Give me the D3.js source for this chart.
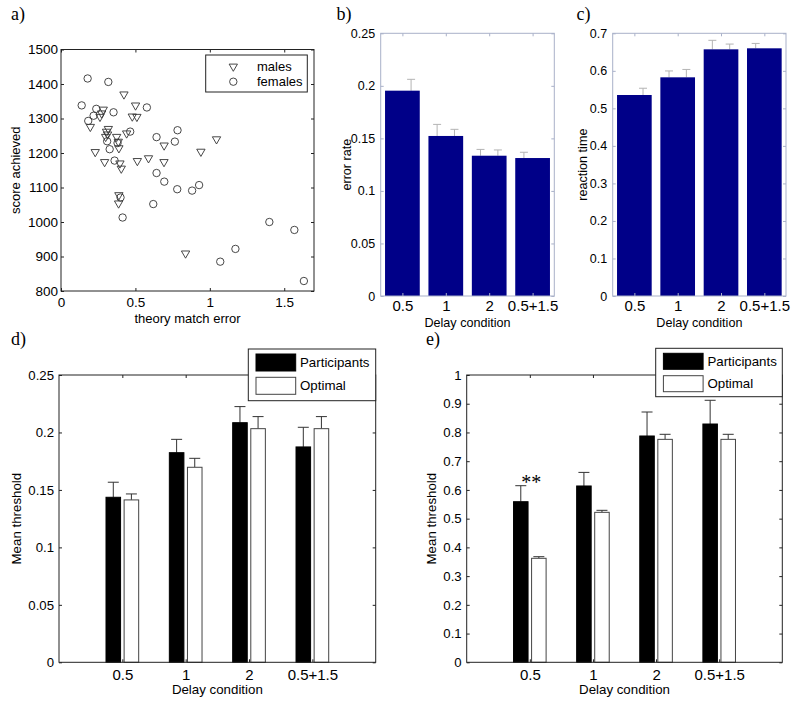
<!DOCTYPE html>
<html><head><meta charset="utf-8">
<script src="https://cdn.jsdelivr.net/npm/d3@7"></script>
<style>body{margin:0;background:#fff;}</style>
</head><body><svg id="c" width="800" height="702"></svg>
<script>
// ---------- data ----------
const malesX = [0.423,0.501,0.479,0.510,0.284,0.273,0.262,0.197,0.318,0.306,0.313,0.300,0.374,0.385,0.441,0.389,0.230,0.293,0.396,0.405,0.513,0.588,0.692,0.693,0.940,1.045,0.389,0.387,0.837];
const malesY = [1370,1338,1306,1305,1326,1315,1305,1276,1270,1262,1254,1247,1247,1233,1257,1214,1203,1174,1170,1155,1177,1185,1174,1222,1204,1240,1078,1054,909];
const femalesX = [0.179,0.318,0.139,0.237,0.219,0.183,0.353,0.577,0.465,0.310,0.327,0.380,0.642,0.783,0.765,0.360,0.642,0.694,0.781,0.881,0.928,0.400,0.414,0.620,1.070,1.172,1.400,1.568,1.632];
const femalesY = [1416,1406,1338,1328,1308,1293,1318,1332,1262,1234,1211,1229,1246,1266,1233,1178,1142,1117,1095,1091,1107,1071,1013,1052,885,922,1000,977,829];
const scatterXTicks = [0,0.5,1,1.5];
const scatterYTicks = [800,900,1000,1100,1200,1300,1400,1500];
const scatterLegend = ["males","females"];

const delayConditions = ["0.5","1","2","0.5+1.5"];

const errorRate = [0.1954,0.1523,0.1335,0.1313];
const errorRateErrLeft = [null,0.011,0.006,0.0055];
const errorRateErrRight = [0.0108,0.0063,0.0055,null];
const errorRateTicks = [0,0.05,0.1,0.15,0.2,0.25];

const reactionTime = [0.5356,0.5827,0.6573,0.660];
const reactionTimeErrLeft = [null,0.017,0.024,0.013];
const reactionTimeErrRight = [0.018,0.021,0.014,null];
const reactionTimeTicks = [0,0.1,0.2,0.3,0.4,0.5,0.6,0.7];

const thresholdDParticipants = [0.1436,0.1824,0.2085,0.1874];
const thresholdDParticipantsErr = [0.0131,0.0116,0.014,0.0171];
const thresholdDOptimal = [0.1413,0.1697,0.2033,0.2033];
const thresholdDOptimalErr = [0.0052,0.0078,0.0105,0.0105];
const thresholdDTicks = [0,0.05,0.1,0.15,0.2,0.25];

const thresholdEParticipants = [0.559,0.6137,0.7877,0.8294];
const thresholdEParticipantsErr = [0.0557,0.0473,0.0835,0.0826];
const thresholdEOptimal = [0.362,0.522,0.776,0.776];
const thresholdEOptimalErr = [0.0056,0.007,0.0176,0.0176];
const thresholdETicks = [0,0.1,0.2,0.3,0.4,0.5,0.6,0.7,0.8,0.9,1];

const groupLegend = ["Participants","Optimal"];

// ---------- drawing ----------
const SANS = "Liberation Sans, Arial, sans-serif";
const SERIF = "Liberation Serif, Times New Roman, serif";
const svg = d3.select("#c");
svg.append("rect").attr("width",800).attr("height",702).attr("fill","#fff");

function fmt(v){ return String(+v.toFixed(4)); }

function drawAxes(x, y, o) {
  const g = svg.append("g");
  const [x0,x1] = x.range(); const [y0,y1] = y.range();
  const tk = o.tick || 3;
  const style = (sel, fs) => {
    sel.attr("font-family", SANS).attr("font-size", fs);
    sel.select(".domain").remove();
    sel.selectAll(".tick line").attr("stroke", o.color);
    sel.selectAll(".tick text").attr("fill", "#000");
  };
  g.append("g").attr("transform",`translate(0,${y0})`)
    .call(d3.axisBottom(x).tickValues(o.xTicks).tickFormat(o.xFormat).tickSizeInner(-tk).tickSizeOuter(0).tickPadding(o.xPad))
    .call(s=>style(s,o.xFont));
  g.append("g").attr("transform",`translate(0,${y1})`)
    .call(d3.axisTop(x).tickValues(o.xTicks).tickFormat("").tickSizeInner(-tk).tickSizeOuter(0))
    .call(s=>style(s,o.xFont));
  g.append("g").attr("transform",`translate(${x0},0)`)
    .call(d3.axisLeft(y).tickValues(o.yTicks).tickFormat(fmt).tickSizeInner(-tk).tickSizeOuter(0).tickPadding(o.yPad))
    .call(s=>style(s,o.yFont));
  g.append("g").attr("transform",`translate(${x1},0)`)
    .call(d3.axisRight(y).tickValues(o.yTicks).tickFormat("").tickSizeInner(-tk).tickSizeOuter(0))
    .call(s=>style(s,o.yFont));
  g.append("rect").attr("x",x0).attr("y",y1).attr("width",x1-x0).attr("height",y0-y1)
    .attr("fill","none").attr("stroke",o.color).attr("stroke-width",1);
  svg.append("text").attr("x",(x0+x1)/2).attr("y",o.xLabelY).attr("text-anchor","middle")
    .attr("font-family",SANS).attr("font-size",o.labelFont).text(o.xLabel);
  svg.append("text").attr("transform",`translate(${o.yLabelX},${(y0+y1)/2}) rotate(-90)`).attr("text-anchor","middle")
    .attr("font-family",SANS).attr("font-size",o.labelFont).text(o.yLabel);
  return g;
}
function panelLabel(t, x, y){
  svg.append("text").attr("x",x).attr("y",y).attr("font-family",SERIF).attr("font-size",18).text(t);
}

// ----- panel a -----
{
  const x = d3.scaleLinear().domain([0,1.7]).range([61,314]);
  const y = d3.scaleLinear().domain([800,1500]).range([291,49.5]);
  drawAxes(x,y,{xTicks:scatterXTicks,xFormat:fmt,yTicks:scatterYTicks,color:"#222",xFont:13.5,yFont:13.5,xPad:6.5,yPad:3,
    xLabel:"theory match error",yLabel:"score achieved",xLabelY:322.5,yLabelX:20,labelFont:13});
  const tri = d3.symbol().type(d3.symbolTriangle).size(30);
  const g = svg.append("g");
  g.selectAll("path.m").data(malesX).join("path").attr("class","m")
    .attr("d",tri).attr("transform",(d,i)=>`translate(${x(d)},${y(malesY[i])}) rotate(180)`)
    .attr("fill","none").attr("stroke","#333").attr("stroke-width",0.9);
  g.selectAll("circle.f").data(femalesX).join("circle").attr("class","f")
    .attr("cx",d=>x(d)).attr("cy",(d,i)=>y(femalesY[i])).attr("r",3.7)
    .attr("fill","none").attr("stroke","#333").attr("stroke-width",0.9);
  svg.append("rect").attr("x",205.7).attr("y",55).attr("width",101.6).attr("height",37)
    .attr("fill","#fff").attr("stroke","#222");
  svg.append("path").attr("d",tri).attr("transform","translate(233.3,66.5) rotate(180)")
    .attr("fill","none").attr("stroke","#333").attr("stroke-width",0.9);
  svg.append("circle").attr("cx",233.3).attr("cy",81.7).attr("r",3.7).attr("fill","none").attr("stroke","#333").attr("stroke-width",0.9);
  scatterLegend.forEach((t,i)=>svg.append("text").attr("x",257).attr("y",71+15*i)
    .attr("font-family",SANS).attr("font-size",13).text(t));
  panelLabel("a)",11,20);
}

// ----- panels b, c -----
function simpleBars(vals, errL, errR, ticks, domainMax, xr, ylab, ylabX, lab, labX){
  const x = d3.scaleLinear().domain([0.5,4.5]).range(xr);
  const y = d3.scaleLinear().domain([0,domainMax]).range([296,33.3]);
  const bw = x(0.8)-x(0);
  const capW = 8;
  const eg = svg.append("g").attr("stroke","#b4b4b4").attr("stroke-width",1);
  const drawErr = (arr, off) => arr.forEach((e,i)=>{
    if(e==null) return;
    const cx = x(i+1+off), yt = y(vals[i]+e);
    eg.append("line").attr("x1",cx).attr("x2",cx).attr("y1",y(vals[i])).attr("y2",yt);
    eg.append("line").attr("x1",cx-capW/2).attr("x2",cx+capW/2).attr("y1",yt).attr("y2",yt);
  });
  drawErr(errL,-0.2); drawErr(errR,0.2);
  svg.append("g").selectAll("rect").data(vals).join("rect")
    .attr("x",(d,i)=>x(i+1)-bw/2).attr("width",bw)
    .attr("y",d=>y(d)).attr("height",d=>y(0)-y(d)).attr("fill","#000088");
  drawAxes(x,y,{xTicks:[1,2,3,4],xFormat:(d,i)=>delayConditions[i],yTicks:ticks,color:"#a9b1c9",xFont:15,yFont:12.5,xPad:4.5,yPad:5.5,
    xLabel:"Delay condition",yLabel:ylab,xLabelY:326.5,yLabelX:ylabX,labelFont:12.6});
  panelLabel(lab,labX,20);
}
simpleBars(errorRate,errorRateErrLeft,errorRateErrRight,errorRateTicks,0.25,[380.7,554.3],"error rate",351,"b)",336.5);
simpleBars(reactionTime,reactionTimeErrLeft,reactionTimeErrRight,reactionTimeTicks,0.7,[612.7,786],"reaction time",587,"c)",576.5);

// ----- panels d, e -----
function groupBars(p, pe, o2, oe, ticks, domainMax, xr, lab, labX, ylabX, leg, star){
  const x = d3.scaleLinear().domain([0,5]).range(xr);
  const y = d3.scaleLinear().domain([0,domainMax]).range([662.3,375]);
  const bw = x(0.23)-x(0);
  const off = 0.143;
  const series = [{v:p,e:pe,fill:"#000",stroke:"#000",o:-off},{v:o2,e:oe,fill:"#fff",stroke:"#444",o:off}];
  const eg = svg.append("g").attr("stroke","#333").attr("stroke-width",1);
  series.forEach(s=>{
    s.v.forEach((v,i)=>{
      const cx = x(i+1+s.o), yt = y(v+s.e[i]);
      eg.append("line").attr("x1",cx).attr("x2",cx).attr("y1",y(v)).attr("y2",yt);
      eg.append("line").attr("x1",cx-5.5).attr("x2",cx+5.5).attr("y1",yt).attr("y2",yt);
    });
    svg.append("g").selectAll("rect").data(s.v).join("rect")
      .attr("x",(d,i)=>x(i+1+s.o)-bw/2).attr("width",bw)
      .attr("y",d=>y(d)).attr("height",d=>y(0)-y(d))
      .attr("fill",s.fill).attr("stroke",s.stroke).attr("stroke-width",1);
  });
  drawAxes(x,y,{xTicks:[1,2,3,4],xFormat:(d,i)=>delayConditions[i],yTicks:ticks,color:"#222",xFont:15,yFont:13.2,xPad:7.5,yPad:5,
    xLabel:"Delay condition",yLabel:"Mean threshold",xLabelY:694,yLabelX:ylabX,labelFont:13.3});
  const lx = leg.x, lw = xr[1]-leg.x;
  svg.append("rect").attr("x",lx).attr("y",leg.y).attr("width",lw).attr("height",leg.h).attr("fill","#fff").attr("stroke","#222");
  series.forEach((s,i)=>{
    svg.append("rect").attr("x",lx+7.7).attr("y",leg.y+5+leg.step*i).attr("width",39.7).attr("height",leg.sh)
      .attr("fill",s.fill).attr("stroke",s.stroke);
    svg.append("text").attr("x",lx+51.7).attr("y",leg.y+5+leg.sh/2+4.6+leg.step*i).attr("font-family",SANS).attr("font-size",13.3).text(groupLegend[i]);
  });
  if(star){
    svg.append("text").attr("x",x(1)+1.5).attr("y",y(p[0]+pe[0])+3).attr("text-anchor","middle")
      .attr("font-family",SERIF).attr("font-size",20).text("**");
  }
  panelLabel(lab,labX,345);
}
groupBars(thresholdDParticipants,thresholdDParticipantsErr,thresholdDOptimal,thresholdDOptimalErr,thresholdDTicks,0.25,[59,375.7],"d)",11,20.5,
  {x:248.3,y:349,h:51.7,step:23.3,sh:17},false);
groupBars(thresholdEParticipants,thresholdEParticipantsErr,thresholdEOptimal,thresholdEOptimalErr,thresholdETicks,1,[466.7,782.3],"e)",426,436,
  {x:655.7,y:348.3,h:48.4,step:22.4,sh:16},true);
</script></body></html>
